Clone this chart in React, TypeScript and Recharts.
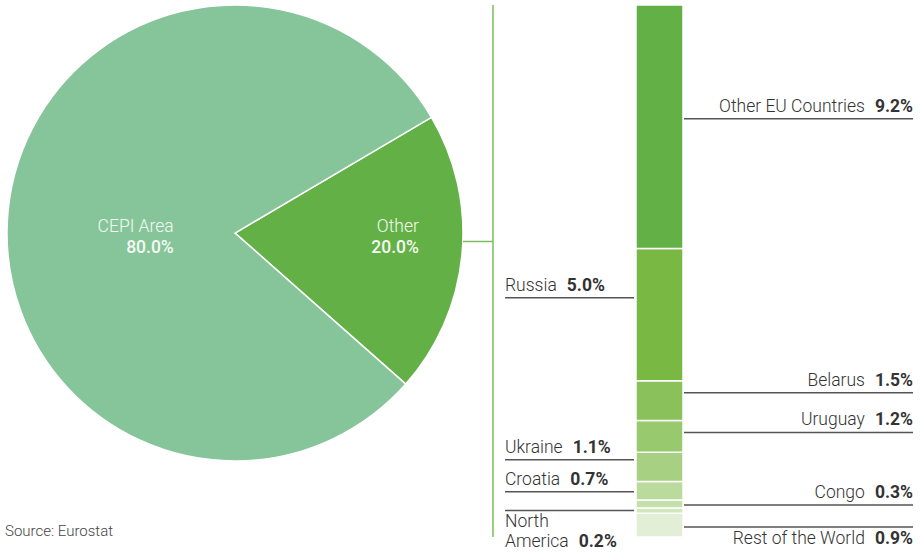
import React from 'react';
import { PieChart, Pie, Cell, BarChart, Bar, XAxis, YAxis } from 'recharts';

// pie: share of pulpwood imports by origin
const pieNames = ['Other', 'CEPI Area'];
const pieValues = [20.0, 80.0];

// breakdown of the "Other" slice, bottom of the stack first
const countries = [
  'Rest of the World',
  'North America',
  'Congo',
  'Croatia',
  'Ukraine',
  'Uruguay',
  'Belarus',
  'Russia',
  'Other EU Countries',
];
const shares = [0.9, 0.2, 0.3, 0.7, 1.1, 1.2, 1.5, 5.0, 9.2];

const PIE_COLORS = ['#63b146', '#86c59a'];
const BAR_COLORS = ['#e2efd6', '#d1e7bd', '#c5e0ab', '#badb9c', '#a8d083', '#99c96f', '#8ac15a', '#78b843', '#63b146'];

// where each leader label goes
type Side = 'left' | 'right' | 'leftBelow' | 'rightBelow';
const LABEL_SIDE: Record<string, Side> = {
  'Other EU Countries': 'right',
  Russia: 'left',
  Belarus: 'right',
  Uruguay: 'right',
  Ukraine: 'left',
  Croatia: 'left',
  Congo: 'right',
  'North America': 'leftBelow',
  'Rest of the World': 'rightBelow',
};
const LABEL_DY: Record<string, number> = {
  'Other EU Countries': -8,
  Russia: -17,
  Belarus: -8,
  Uruguay: -4,
  Ukraine: -7,
  Croatia: 1,
  Congo: 1,
  'North America': 0,
  'Rest of the World': 2,
};

const FONT = 'Roboto, "Noto Sans", sans-serif';
const TEXT = '#333';
const FS = 17.5;
const LEFT_X = 505;
const RIGHT_X = 913;

const pieData = pieNames.map((name, i) => ({ name, value: pieValues[i] }));
const barRow: Record<string, number | string> = { name: 'Other' };
countries.forEach((c, i) => {
  barRow[c] = shares[i];
});
const barData = [barRow];

const renderPieLabel = (props: any) => {
  const { cx, cy, midAngle, outerRadius, index } = props;
  const factor = index === 0 ? 0.81 : 0.27;
  const r = outerRadius * factor;
  const x = cx + r * Math.cos((-midAngle * Math.PI) / 180);
  return (
    <text x={x} y={cy - 1} textAnchor="end" fill="#f4faf2" fontFamily={FONT} fontSize={FS}>
      <tspan x={x} fontWeight={300}>{pieData[index].name}</tspan>
      <tspan x={x} dy={21} fontWeight={500}>{pieData[index].value.toFixed(1)}%</tspan>
    </text>
  );
};

const makeBarLabel = (country: string, value: number) => (props: any) => {
  const vb = props.viewBox || props;
  const x = Number(props.x ?? vb.x);
  const y = Number(props.y ?? vb.y);
  const w = Number(props.width ?? vb.width);
  const h = Number(props.height ?? vb.height);
  const side = LABEL_SIDE[country];
  const lineY = y + h / 2 + (LABEL_DY[country] || 0);
  const val = `${value.toFixed(1)}%`;
  const isRight = side === 'right' || side === 'rightBelow';
  const lx1 = isRight ? x + w + 1 : LEFT_X;
  const lx2 = isRight ? RIGHT_X : x - 2;
  const tx = isRight ? RIGHT_X : LEFT_X;
  const anchor = isRight ? 'end' : 'start';
  const line = <line x1={lx1} x2={lx2} y1={lineY} y2={lineY} stroke="#555" strokeWidth={1.5} />;
  if (side === 'leftBelow') {
    const words = country.split(' ');
    return (
      <g>
        {line}
        <text x={tx} y={lineY + 16} fill={TEXT} fontFamily={FONT} fontSize={FS}>
          <tspan x={tx} fontWeight={300}>{words[0]}</tspan>
          <tspan x={tx} dy={20} fontWeight={300}>{words.slice(1).join(' ')}</tspan>
          <tspan dx={10} fontWeight={700}>{val}</tspan>
        </text>
      </g>
    );
  }
  const ty = side === 'rightBelow' ? lineY + 17 : lineY - 7;
  return (
    <g>
      {line}
      <text x={tx} y={ty} textAnchor={anchor} fill={TEXT} fontFamily={FONT} fontSize={FS}>
        <tspan fontWeight={300}>{country}</tspan>
        <tspan dx={10} fontWeight={700}>{val}</tspan>
      </text>
    </g>
  );
};

export default function App() {
  return (
    <div style={{ position: 'absolute', left: 0, top: 0, width: 923, height: 555, background: '#fff', fontFamily: FONT }}>
      <div style={{ position: 'absolute', left: 0, top: 0 }}>
        <PieChart width={470} height={555} margin={{ top: 0, right: 0, bottom: 0, left: 0 }}>
          <Pie
            data={pieData}
            dataKey="value"
            nameKey="name"
            cx={235}
            cy={233}
            outerRadius={228}
            startAngle={-41.5}
            endAngle={318.5}
            stroke="#fff"
            strokeWidth={1.5}
            labelLine={false}
            label={renderPieLabel}
            isAnimationActive={false}
          >
            {pieData.map((entry, i) => (
              <Cell key={entry.name} fill={PIE_COLORS[i]} />
            ))}
          </Pie>
        </PieChart>
      </div>
      <svg style={{ position: 'absolute', left: 0, top: 0 }} width={923} height={555}>
        <line x1={493} x2={493} y1={5} y2={537} stroke="#7dbd5c" strokeWidth={1.5} />
        <line x1={463} x2={493} y1={241.5} y2={241.5} stroke="#7dbd5c" strokeWidth={1.5} />
      </svg>
      <div style={{ position: 'absolute', left: 0, top: 0 }}>
        <BarChart width={923} height={555} data={barData} margin={{ top: 5, right: 214, bottom: 18, left: 610 }}>
          <XAxis dataKey="name" type="category" hide />
          <YAxis type="number" domain={[0, 20]} hide />
          {countries.map((c, i) => (
            <Bar
              key={c}
              dataKey={c}
              stackId="other"
              barSize={47}
              fill={BAR_COLORS[i]}
              stroke="#fff"
              strokeWidth={1.5}
              label={makeBarLabel(c, shares[i])}
              isAnimationActive={false}
            />
          ))}
        </BarChart>
      </div>
      <div style={{ position: 'absolute', left: 5, top: 522, fontSize: 15, color: '#444', fontWeight: 300 }}>
        Source: Eurostat
      </div>
    </div>
  );
}
